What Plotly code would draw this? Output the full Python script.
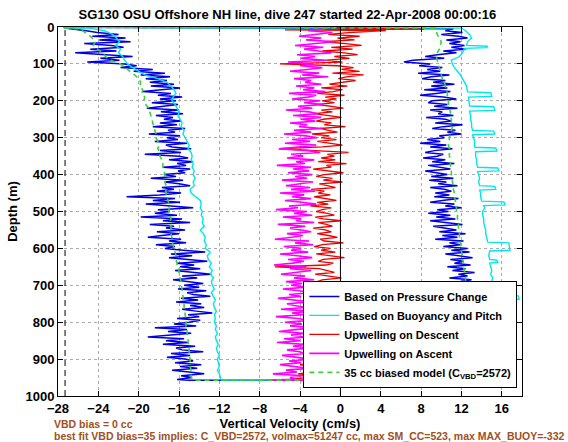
import sys
import plotly.graph_objects as go

# ---------------- data ----------------
# regular 5 m sampling grid used for the dense series
grid5 = list(range(5, 960, 5))  # 5 .. 955

# Blue: vertical velocity based on pressure change (descent, left branch)
blue_desc_depth = [2] + grid5 + [957]
blue_desc = [-27.4,
    -26.8, -25.2, -24.1, -22.0, -24.6, -21.3, -23.9, -20.8, -25.4, -22.7,
    -21.5, -24.8, -22.2, -26.3, -23.1, -20.6, -23.8, -21.9, -25.1, -21.4,
    -20.2, -21.8, -18.6, -20.5, -17.4, -19.8, -16.9, -19.3, -17.2, -18.9,
    -16.5, -18.8, -15.9, -17.6, -19.6, -16.8, -18.1, -15.7, -17.9, -16.3,
    -18.7, -16.1, -17.4, -19.2, -16.0, -17.8, -15.6, -18.3, -16.6, -17.5,
    -15.8, -17.9, -16.2, -18.6, -15.4, -17.1, -16.4, -19.0, -15.9, -17.2,
    -16.1, -18.4, -15.2, -17.3, -16.7, -14.8, -17.9, -15.8, -19.4, -16.0,
    -15.1, -17.0, -14.6, -16.2, -15.3, -17.6, -14.9, -16.1, -15.4, -17.5,
    -16.3, -18.8, -15.6, -17.4, -16.0, -14.9, -17.7, -16.5, -18.2, -15.8,
    -17.9, -21.2, -16.4, -18.6, -15.9, -19.3, -16.8, -14.6, -18.1, -16.9,
    -18.4, -16.2, -19.8, -15.7, -17.6, -14.9, -18.9, -16.5, -17.3, -15.4,
    -18.2, -16.0, -17.7, -19.1, -15.8, -17.0, -15.3, -18.3, -16.4, -17.4,
    -15.6, -13.4, -16.8, -14.7, -17.0, -15.3, -13.2, -16.2, -14.5, -15.9,
    -13.9, -16.4, -14.8, -12.8, -15.7, -14.2, -16.6, -14.9, -13.6, -15.5,
    -14.0, -16.1, -13.3, -15.2, -14.6, -12.9, -15.8, -14.1, -16.3, -13.8,
    -14.9, -13.5, -15.7, -14.3, -12.7, -15.1, -14.0, -16.2, -13.9, -15.0,
    -16.5, -14.3, -18.4, -15.2, -17.1, -14.8, -16.9, -19.1, -15.5, -17.3,
    -15.1, -17.6, -14.4, -16.3, -15.7, -13.6, -16.8, -14.9, -17.2, -15.4,
    -14.6, -16.4, -13.8, -15.9, -14.2, -16.7, -15.0, -13.5, -15.8, -14.7,
    -16.2,
    -15.0]

# Blue: ascent (right branch), listed by increasing depth
blue_asc_depth = [1] + grid5 + [957]
blue_asc = [-27.5,
    11.2, 10.4, 12.1, 10.0, 11.7, 12.6, 10.5, 11.9, 10.8, 12.3,
    11.0, 12.4, 10.2, 11.5, 9.6, 8.4, 10.3, 7.2, 6.3, 8.9,
    7.8, 10.1, 8.6, 9.9, 7.7, 10.8, 9.0, 8.1, 10.4, 9.2,
    11.3, 9.0, 10.6, 8.3, 10.9, 9.5, 7.9, 10.2, 11.5, 9.1,
    8.7, 10.6, 9.3, 11.6, 8.9, 10.1, 9.7, 11.2, 8.5, 10.4,
    11.0, 9.4, 12.1, 10.2, 9.1, 11.4, 10.6, 12.0, 9.8, 10.3,
    8.6, 9.9, 7.9, 10.5, 8.9, 11.1, 9.3, 8.4, 10.2, 9.6,
    8.2, 10.4, 9.1, 11.3, 8.7, 9.8, 10.9, 8.4, 9.5, 10.6,
    9.0, 11.2, 8.8, 10.5, 9.7, 11.6, 8.9, 10.3, 11.0, 9.4,
    10.8, 9.3, 11.7, 10.1, 8.9, 11.3, 10.4, 12.0, 9.6, 10.7,
    8.7, 10.9, 9.5, 11.4, 8.9, 10.6, 12.1, 9.2, 10.3, 11.5,
    9.8, 12.4, 10.1, 11.6, 9.4, 12.2, 10.8, 11.9, 10.2, 12.6,
    11.0, 12.8, 10.4, 11.7, 13.1, 10.9, 12.2, 11.3, 12.9, 10.6,
    12.4, 11.1, 13.3, 11.7, 12.6, 10.8, 13.0, 11.9, 12.3, 11.4,
    12.8, 11.5, 13.9, 12.1, 13.4, 11.2, 12.9, 14.1, 12.0, 13.2,
    11.8, 13.5, 12.4, 14.0, 12.7, 11.6, 13.3, 12.5, 14.2, 12.9,
    13.6, 11.9, 14.3, 12.6, 13.4, 11.7, 13.8, 12.8, 14.0, 12.2,
    13.1, 12.3, 14.1, 12.7, 13.5, 11.9, 13.9, 12.6, 14.4, 13.0,
    12.4, 13.8, 12.9, 14.2, 12.5, 13.6, 12.8, 14.0, 13.1, 12.7,
    13.3,
    13.4]

# Cyan: based on buoyancy and pitch (descent)
cyan_desc_depth = [2, 5, 10, 20, 30, 40, 50, 60, 70, 80, 90, 100, 110, 120, 130, 140,
    150, 160, 170, 180, 190, 200, 210, 220, 230, 240, 250, 260, 270, 280, 290,
    300, 310, 320, 330, 340, 350, 360, 370, 380, 390, 400, 410, 420, 430, 440,
    450, 460, 470, 480, 490, 500, 510, 520, 530, 540, 550, 560, 570, 580, 590,
    600, 610, 620, 630, 640, 650, 660, 670, 680, 690, 700, 710, 720, 730, 740,
    750, 760, 770, 780, 790, 800, 810, 820, 830, 840, 850, 860, 870, 880, 890,
    900, 910, 920, 930, 940, 950, 957]
cyan_desc = [-27.3, -24.5, -23.4, -22.6, -22.2, -21.9, -22.3, -21.8, -22.0, -21.6, -21.4,
    -21.1, -20.6, -20.0, -19.4, -18.1, -17.2, -16.8, -16.5, -16.3, -16.6,
    -16.7, -16.4, -16.2, -16.0, -16.1, -15.9, -15.7, -15.8, -15.5, -15.6,
    -15.4, -15.2, -15.0, -15.1, -14.8, -14.7, -14.8, -14.6, -14.7, -14.5,
    -14.6, -14.4, -14.6, -14.5, -14.9, -14.8, -14.3, -13.9, -13.8, -13.9,
    -13.7, -13.8, -13.6, -13.7, -13.5, -13.9, -13.6, -13.4, -13.5, -13.3,
    -13.4, -12.9, -13.2, -13.1, -12.8, -13.0, -12.7, -12.9, -12.6, -12.8,
    -12.7, -12.5, -12.8, -12.6, -12.4, -12.6, -12.5, -12.3, -12.5, -12.4,
    -12.5, -12.3, -12.4, -12.2, -12.4, -12.3, -12.1, -12.3, -12.2, -12.0,
    -12.2, -12.1, -12.0, -12.2, -12.0, -11.9, -11.8]

# Cyan: ascent (by increasing depth), with the step-like excursions
cyan_asc_depth = [1, 3, 10, 20, 30, 40, 50, 52, 56, 58, 70, 80, 90, 100, 110, 120, 130,
    140, 150, 160, 176, 178, 188, 190, 200, 214, 216, 226, 228, 240, 250, 260,
    270, 280, 282, 290, 292, 300, 310, 326, 328, 336, 338, 350, 360, 370, 380,
    382, 390, 392, 400, 410, 420, 430, 432, 440, 442, 450, 460, 472, 474, 482,
    484, 490, 500, 510, 520, 530, 540, 550, 560, 570, 583, 585, 605, 607, 620,
    630, 632, 638, 640, 650, 660, 670, 680, 690, 700, 715, 726, 728, 738, 740,
    750, 760, 770, 780, 790, 800, 810, 820, 830, 840, 850, 860, 870, 880, 890,
    900, 910, 920, 930, 940, 950, 957]
cyan_asc = [-27.5, 12.0, 12.4, 12.8, 13.0, 12.6, 12.5, 14.6, 14.5, 12.3, 12.1,
    11.8, 11.0, 11.1, 11.3, 11.6, 11.9, 12.1, 12.3, 12.5, 12.6, 14.9, 15.0,
    12.7, 12.7, 12.8, 15.2, 15.3, 12.8, 12.9, 12.9, 13.0, 13.0, 13.1, 15.2,
    15.3, 13.1, 13.2, 13.3, 13.3, 15.4, 15.5, 13.4, 13.4, 13.5, 13.5, 13.6,
    15.6, 15.7, 13.6, 13.7, 13.8, 13.7, 13.8, 15.3, 15.4, 13.8, 13.9, 13.9,
    14.0, 16.2, 16.3, 14.2, 14.3, 14.1, 14.1, 14.2, 14.2, 14.3, 14.4, 14.4,
    14.5, 14.6, 16.7, 16.8, 14.8, 14.7, 14.8, 15.5, 15.6, 14.8, 14.9, 15.0,
    14.9, 15.1, 15.0, 15.2, 15.1, 15.3, 17.6, 17.7, 15.5, 15.4, 15.6, 15.3,
    15.5, 15.3, 15.4, 15.2, 15.3, 15.4, 15.2, 15.3, 15.1, 15.4, 15.2, 15.4,
    15.3, 15.5, 15.3, 15.6, 15.4, 15.5, 15.6]

# Red: upwelling on descent
red_depth = [2, 6, 8, 10] + grid5[2:] + [958]
red = [-1.0, 8.3, -5.5, 4.5,
    0.8, -1.2, 1.9, -0.3, 1.4, -1.6, 0.5, 2.1,
    -0.9, 1.2, -1.8, 0.4, 1.7, -0.6, 0.9, -1.4, 0.2, -6.0,
    -0.3, 1.3, 0.1, 1.9, -0.8, 2.3, 0.6, -0.2, 1.5, 0.3,
    -1.1, 0.7, -1.9, 0.2, -0.7, -2.3, 0.4, -1.5, -0.4, -1.8,
    -0.6, -2.2, -1.0, 0.3, -1.9, -0.8, -2.6, -1.3, 0.1, -1.7,
    -2.4, -0.9, -1.6, 0.5, -2.0, -1.2, -0.3, -2.8, -1.1, -1.9,
    -0.4, -2.3, -1.0, 0.2, -1.8, -6.1, -2.5, 0.8, -1.3, -0.6,
    -1.9, -0.5, -2.2, 0.6, -1.4, -0.9, -2.7, -1.1, 0.3, -1.6,
    -2.4, -0.8, -1.7, 0.2, -2.1, -1.3, -0.5, -2.9, -1.6, -2.2,
    -1.0, -2.6, -1.5, -0.4, -2.3, -1.2, -3.0, -0.9, -1.8, -2.4,
    -1.3, -0.6, -2.5, -1.7, 0.1, -2.2, -1.4, -0.8, -2.7, -1.5,
    -0.9, -2.3, -1.2, -0.3, -2.0, -1.6, 0.3, -1.8, -2.6, -1.0,
    -1.9, -0.5, -2.4, -1.1, 0.4, -1.7, -2.2, -0.7, -1.4, -6.5,
    -2.1, -1.3, -0.6, -2.5, -1.0, 0.1, -1.8, -2.3, -0.9, -1.5,
    -2.6, -1.1, -0.4, -2.0, -1.7, -0.8, -2.8, -1.3, -0.5, -2.2,
    -1.5, -2.9, -0.9, -1.8, -2.4, -1.1, -3.1, -1.6, -2.5, -0.8,
    -2.3, -1.4, -3.2, -2.0, -1.1, -2.8, -3.5, -1.7, -2.6, -1.9,
    -3.0, -2.2, -1.5, -3.4, -2.7, -1.8, -3.6, -2.4, -3.1, -2.0,
    -3.3, -2.6, -4.0, -2.9, -2.2, -3.7, -3.0, -4.2, -2.7, -3.5,
    -4.8,
    -5.6]

# Magenta: upwelling on ascent (by increasing depth)
magenta_depth = grid5 + [957, 958]
magenta = [
    -1.5, -3.2, -0.8, -2.6, -4.1, -1.9, -3.4, -0.6, -2.8, -4.5,
    -1.7, -3.6, -2.2, -0.9, -4.3, -2.5, -3.9, -1.4, -5.2, -2.7,
    -4.0, -1.8, -3.3, -5.0, -2.1, -3.8, -1.2, -4.6, -2.9, -3.5,
    -1.9, -4.4, -2.6, -3.7, -1.5, -5.1, -2.4, -3.2, -4.8, -2.0,
    -3.6, -1.7, -4.2, -2.8, -5.4, -3.1, -2.2, -4.7, -1.9, -3.9,
    -2.5, -5.0, -3.3, -4.1, -1.8, -4.6, -2.9, -5.6, -3.4, -2.3,
    -4.8, -3.0, -5.5, -2.4, -4.2, -6.1, -3.2, -2.0, -4.9, -3.7,
    -5.3, -2.6, -4.4, -3.5, -6.3, -2.9, -4.7, -3.1, -5.2, -2.8,
    -4.5, -3.3, -5.8, -2.7, -4.0, -5.4, -3.0, -4.9, -2.5, -6.0,
    -3.6, -4.8, -2.9, -5.5, -3.8, -2.4, -5.1, -4.2, -6.4, -3.3,
    -4.6, -2.8, -5.7, -3.9, -4.4, -2.6, -6.2, -3.5, -5.0, -4.1,
    -2.9, -5.3, -3.7, -4.8, -6.5, -3.1, -4.5, -2.7, -5.6, -3.9,
    -4.9, -3.2, -6.0, -4.3, -2.8, -5.2, -3.6, -4.7, -6.6, -3.4,
    -5.0, -2.9, -4.4, -5.9, -3.5, -4.6, -2.6, -5.4, -3.8, -4.9,
    -3.3, -5.7, -4.1, -2.8, -5.1, -3.9, -6.2, -4.4, -3.0, -5.3,
    -4.6, -3.4, -5.9, -2.9, -4.8, -3.7, -6.4, -4.2, -3.1, -5.5,
    -3.8, -5.0, -2.7, -4.5, -6.1, -3.5, -4.9, -3.2, -5.6, -4.0,
    -6.3, -3.6, -4.7, -2.9, -5.3, -4.1, -3.4, -5.8, -4.4, -3.0,
    -5.1, -3.9, -6.0, -4.6, -3.2, -5.4, -4.3, -6.7, -3.7, -5.0,
    -4.4,
    -7.3, -1.2]

# Green dashed: 35 cc biased model
green_desc_depth = cyan_desc_depth
green_desc = [-27.4, -26.0, -25.6, -25.0, -24.6, -24.3, -24.5, -24.0, -23.6, -23.3, -22.8,
    -21.8, -21.3, -20.8, -20.4, -20.0, -19.8, -19.9, -19.6, -19.7, -19.4,
    -19.5, -19.3, -19.0, -18.9, -18.8, -18.7, -18.6, -18.5, -18.4, -18.3,
    -18.3, -18.1, -18.0, -18.1, -17.9, -17.9, -17.7, -17.6, -17.6, -17.5,
    -17.4, -17.4, -17.4, -17.3, -17.3, -17.3, -17.2, -17.1, -17.0, -17.0,
    -17.0, -16.9, -16.8, -16.9, -16.8, -16.8, -16.8, -16.7, -16.7, -16.6,
    -16.5, -16.4, -16.3, -16.3, -16.2, -16.2, -16.0, -16.0, -15.9, -15.8,
    -15.8, -15.7, -15.7, -15.6, -15.6, -15.5, -15.5, -15.4, -15.4, -15.3,
    -15.3, -15.3, -15.2, -15.2, -15.1, -15.1, -15.1, -15.0, -15.0, -15.0,
    -14.9, -14.9, -14.9, -14.8, -14.8, -14.8, -14.7]
green_asc_depth = [1, 3, 10, 20, 30, 40, 50, 60, 70, 80, 90, 100, 110, 120, 130, 140,
    150, 160, 170, 180, 190, 200, 210, 220, 230, 240, 250, 260, 270, 280, 290,
    300, 310, 320, 330, 340, 350, 360, 370, 380, 390, 400, 410, 420, 430, 440,
    450, 460, 470, 480, 490, 500, 510, 520, 530, 540, 550, 560, 570, 580, 590,
    600, 610, 620, 630, 640, 650, 660, 670, 680, 690, 700, 710, 720, 730, 740,
    750, 760, 770, 780, 790, 800, 810, 820, 830, 840, 850, 860, 870, 880, 890,
    900, 910, 920, 930, 940, 950, 957]
green_asc = [-27.5, 9.4, 9.5, 9.6, 9.8, 10.0, 9.9, 9.8, 9.6, 9.5, 9.6,
    9.7, 9.8, 9.9, 10.0, 10.1, 10.3, 10.4, 10.5, 10.6, 10.6,
    10.7, 10.7, 10.8, 10.9, 10.9, 11.0, 11.0, 11.1, 11.0, 10.9,
    10.8, 10.8, 10.7, 10.8, 10.8, 10.8, 10.9, 10.9, 10.9, 11.0,
    11.0, 11.1, 11.1, 11.2, 11.2, 11.3, 11.3, 11.4, 11.4, 11.5,
    11.5, 11.6, 11.6, 11.7, 11.7, 11.7, 11.8, 11.8, 11.9, 11.9,
    12.0, 12.0, 12.1, 12.1, 12.2, 12.2, 12.3, 12.3, 12.4, 12.4,
    12.5, 12.6, 12.8, 12.7, 12.7, 12.7, 12.8, 12.8, 12.8, 12.8,
    12.8, 12.8, 12.8, 12.9, 12.9, 12.9, 12.9, 13.0, 13.0, 13.0,
    13.0, 13.1, 13.1, 13.1, 13.2, 13.2, 13.2]

# reference lines
zero_w = 0.0
limit_w = -27.3

x_ticks = list(range(-28, 17, 4))
y_ticks = list(range(0, 1001, 100))

title_text = "SG130 OSU Offshore NH line, dive 247 started 22-Apr-2008 00:00:16"
note1 = "VBD bias = 0 cc"
note2 = "best fit VBD bias=35 implies: C_VBD=2572, volmax=51247 cc, max SM_CC=523, max MAX_BUOY=-332"


def pair(d, v, name):
    n = min(len(d), len(v))
    if len(d) != len(v):
        print(f"length mismatch {name}: {len(d)} vs {len(v)}", file=sys.stderr)
    return list(d[:n]), list(v[:n])


def loop(dd, dv, ad, av, name):
    d1, v1 = pair(dd, dv, name + " desc")
    d2, v2 = pair(ad, av, name + " asc")
    return d1 + d2[::-1], v1 + v2[::-1]


blue_d, blue_v = loop(blue_desc_depth, blue_desc, blue_asc_depth, blue_asc, "blue")
cyan_d, cyan_v = loop(cyan_desc_depth, cyan_desc, cyan_asc_depth, cyan_asc, "cyan")
green_d, green_v = loop(green_desc_depth, green_desc, green_asc_depth, green_asc, "green")
red_d, red_v = pair(red_depth, red, "red")
mag_d, mag_v = pair(magenta_depth, magenta, "magenta")

FONT = "Liberation Sans, Arial, Helvetica, sans-serif"

fig = go.Figure()
fig.add_trace(go.Scatter(x=blue_v, y=blue_d, mode="lines", name="Based on Pressure Change",
                         line=dict(color="rgb(0,0,225)", width=1.5)))
fig.add_trace(go.Scatter(x=cyan_v, y=cyan_d, mode="lines", name="Based on Buoyancy and Pitch",
                         line=dict(color="rgb(0,230,235)", width=1.4)))
fig.add_trace(go.Scatter(x=red_v, y=red_d, mode="lines", name="Upwelling on Descent",
                         line=dict(color="rgb(235,0,0)", width=1.3)))
fig.add_trace(go.Scatter(x=mag_v, y=mag_d, mode="lines", name="Upwelling on Ascent",
                         line=dict(color="rgb(255,0,255)", width=1.6)))
fig.add_trace(go.Scatter(x=green_v, y=green_d, mode="lines",
                         name="35 cc biased model (C<sub>VBD</sub>=2572)",
                         line=dict(color="rgb(60,210,60)", width=1.6, dash="5px,4px")))

fig.add_shape(type="line", xref="x", yref="paper", x0=zero_w, x1=zero_w, y0=0, y1=1,
              line=dict(color="black", width=1), layer="above")
fig.add_shape(type="line", xref="x", yref="paper", x0=limit_w, x1=limit_w, y0=0, y1=1,
              line=dict(color="black", width=1, dash="6px,4px"), layer="above")

axis_common = dict(
    showline=True, linecolor="black", linewidth=1, mirror="ticks",
    ticks="inside", ticklen=5, tickcolor="black",
    showgrid=True, gridcolor="rgb(170,170,170)", griddash="dot", gridwidth=1,
    zeroline=False,
    tickfont=dict(family=FONT, size=13, color="black", weight="bold"),
)

fig.update_layout(
    width=568, height=442,
    margin=dict(l=54, r=46, t=27, b=46),
    paper_bgcolor="white", plot_bgcolor="white",
    font=dict(family=FONT, color="black"),
    title=dict(text="<b>" + title_text + "</b>", x=0.506, xanchor="center",
               y=1 - 14 / 442, yanchor="middle",
               font=dict(family=FONT, size=13, color="black")),
    xaxis=dict(range=[-28, 18], tickvals=x_ticks,
               title=dict(text="<b>Vertical Velocity (cm/s)</b>", standoff=2,
                          font=dict(family=FONT, size=13, color="black")),
               **axis_common),
    yaxis=dict(range=[1000, 0], tickvals=y_ticks,
               title=dict(text="<b>Depth (m)</b>", standoff=4,
                          font=dict(family=FONT, size=13, color="black")),
               **axis_common),
    legend=dict(x=0.99, xanchor="right", y=0.022, yanchor="bottom",
                bgcolor="white", bordercolor="black", borderwidth=1,
                font=dict(family=FONT, size=11, color="black", weight="bold"),
                itemwidth=30, tracegroupgap=0),
    showlegend=True,
)

brown = "rgb(160,80,35)"
fig.add_annotation(text="<b>" + note1 + "</b>", xref="paper", yref="paper",
                   x=-0.012, y=(396 - 424) / 369, xanchor="left", yanchor="middle",
                   showarrow=False, font=dict(family=FONT, size=10.5, color=brown))
fig.add_annotation(text="<b>" + note2 + "</b>", xref="paper", yref="paper",
                   x=-0.012, y=(396 - 435.5) / 369, xanchor="left", yanchor="middle",
                   showarrow=False, font=dict(family=FONT, size=10.5, color=brown))

fig.write_html("out.html", config={"displayModeBar": False},
               post_script="document.body.style.margin='0';document.body.style.padding='0';"
                           "document.body.style.overflow='hidden';")
